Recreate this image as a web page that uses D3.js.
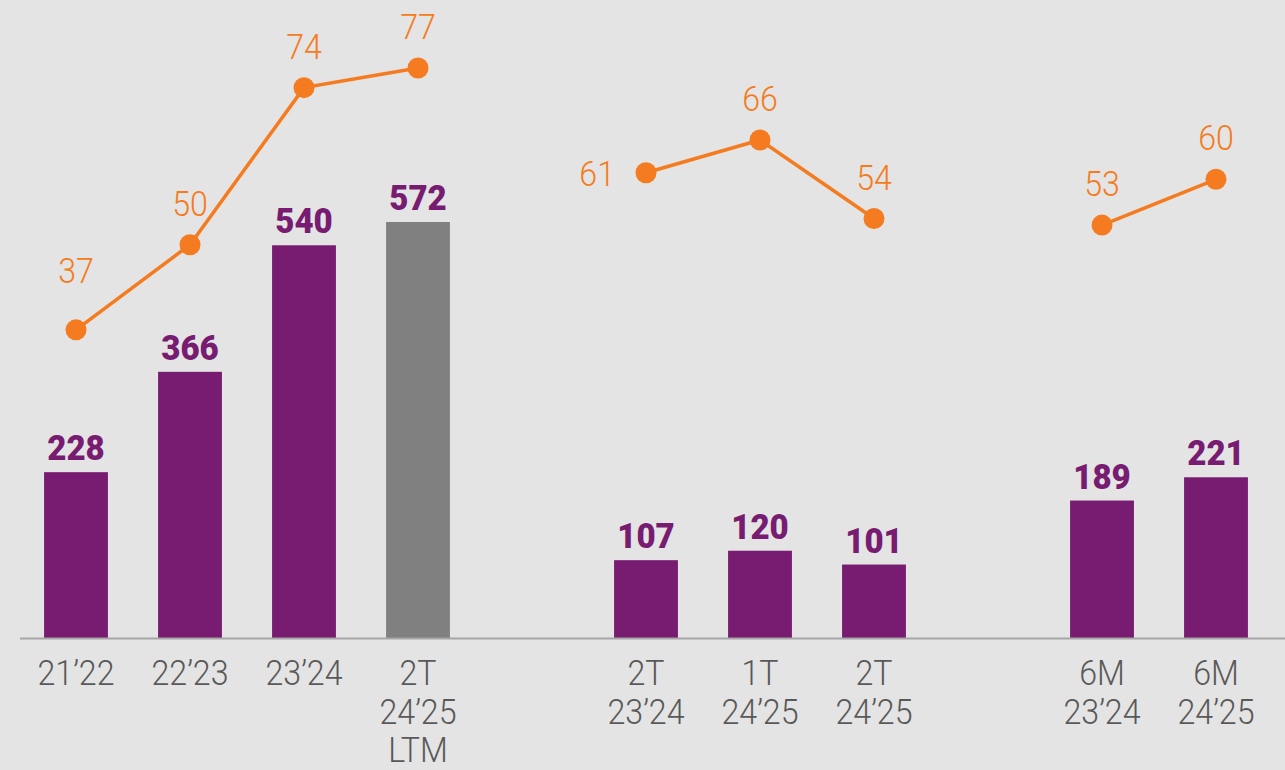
<!DOCTYPE html>
<html><head><meta charset="utf-8">
<script src="https://cdn.jsdelivr.net/npm/d3@7"></script>
<style>html,body{margin:0;padding:0;background:#e4e4e4;}svg{display:block;}</style>
</head><body>
<svg id="c" width="1285" height="770"></svg>
<script>
const categories = [["21’22"],["22’23"],["23’24"],["2T","24’25","LTM"],null,["2T","23’24"],["1T","24’25"],["2T","24’25"],null,["6M","23’24"],["6M","24’25"]];
const barValues = [228,366,540,572,null,107,120,101,null,189,221];
const barIsLtm = [false,false,false,true,false,false,false,false,false,false,false];
const lineValues = [37,50,74,77,null,61,66,54,null,53,60];
// label placement for line values
const lineLabelPos = ["upHigh","up","up","up",null,"left","up","up",null,"up","up"];

const svg = d3.select("#c");
const idx = d3.range(categories.length);
const x = d3.scaleBand().domain(idx).range([19, 1273]).paddingInner(0.44).paddingOuter(0.22);
const yBar = d3.scaleLinear().domain([0, 572]).range([638, 222]);
const yLine = d3.scaleLinear().domain([0, 77]).range([572, 68]);
const cx = i => x(i) + x.bandwidth()/2;
const FONT = "Roboto, sans-serif";

// bars
const bd = idx.filter(i => barValues[i] != null);
svg.selectAll("rect.bar").data(bd).join("rect")
  .attr("x", i => x(i)).attr("width", x.bandwidth())
  .attr("y", i => yBar(barValues[i])).attr("height", i => yBar(0) - yBar(barValues[i]))
  .attr("fill", i => barIsLtm[i] ? "#808080" : "#771c71");

svg.selectAll("text.bl").data(bd).join("text")
  .attr("transform", i => `translate(${cx(i)},${yBar(barValues[i]) - 12}) scale(0.92,1)`)
  .attr("text-anchor","middle").attr("font-family",FONT).attr("font-weight",900)
  .attr("font-size",36).attr("fill","#771c71")
  .text(i => barValues[i]);

// baseline
svg.append("line").attr("x1",20).attr("x2",1285).attr("y1",638.5).attr("y2",638.5)
  .attr("stroke","#a6a6a6").attr("stroke-width",2);

// axis labels
const axisLines = [];
idx.forEach(i => { if (categories[i]) categories[i].forEach((t,k) => axisLines.push({i,k,t})); });
svg.selectAll("text.ax").data(axisLines).join("text")
  .attr("transform", d => `translate(${cx(d.i)},${685 + d.k*38.5}) scale(0.92,1)`)
  .attr("text-anchor","middle").attr("font-family",FONT).attr("font-weight",300)
  .attr("font-size",35).attr("fill","#595959")
  .text(d => d.t);

// line (broken at gaps)
const line = d3.line().defined(i => lineValues[i] != null).x(cx).y(i => yLine(lineValues[i]));
svg.append("path").attr("d", line(idx)).attr("fill","none").attr("stroke","#f47b20").attr("stroke-width",3.5);

const pd = idx.filter(i => lineValues[i] != null);
svg.selectAll("circle.pt").data(pd).join("circle")
  .attr("cx", cx).attr("cy", i => yLine(lineValues[i])).attr("r", 10.5).attr("fill","#f47b20");

svg.selectAll("text.pl").data(pd).join("text")
  .attr("transform", i => {
    const p = yLine(lineValues[i]);
    let tx = cx(i), ty = p - 29;
    if (lineLabelPos[i] === "left") { tx = cx(i) - 31; ty = p + 13; }
    if (lineLabelPos[i] === "upHigh") ty = p - 47;
    return `translate(${tx},${ty}) scale(0.92,1)`;
  })
  .attr("text-anchor", i => lineLabelPos[i] === "left" ? "end" : "middle")
  .attr("font-family",FONT).attr("font-weight",300)
  .attr("font-size",35).attr("fill","#f47b20")
  .text(i => lineValues[i]);
</script>
</body></html>
